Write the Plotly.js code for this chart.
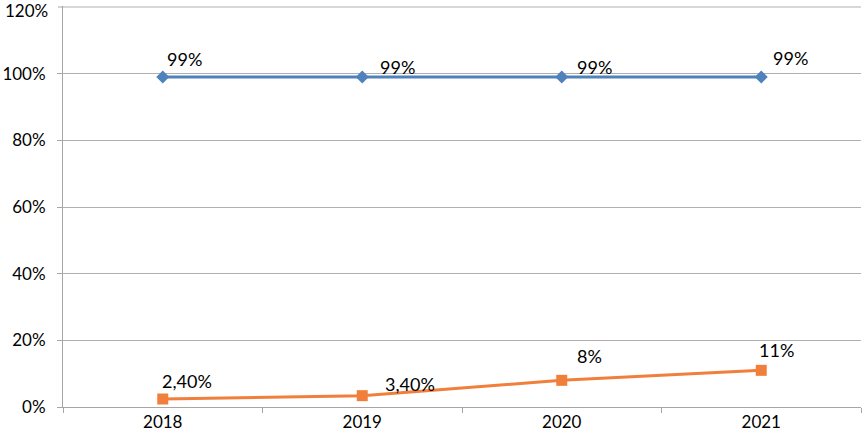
<!DOCTYPE html>
<html>
<head>
<meta charset="utf-8">
<script src="https://cdn.plot.ly/plotly-3.0.1.min.js"></script>
<style>html,body{margin:0;padding:0;background:#fff;}#chart{width:862px;height:441px;}</style>
</head>
<body>
<div id="chart"></div>
<script>
var years = ['2018', '2019', '2020', '2021'];
var seriesA = [99, 99, 99, 99];
var seriesB = [2.4, 3.4, 8, 11];
var labelsA = ['99%', '99%', '99%', '99%'];
var labelsB = ['2,40%', '3,40%', '8%', '11%'];
var yTicks = [0, 20, 40, 60, 80, 100, 120];
var yTickText = ['0%', '20%', '40%', '60%', '80%', '100%', '120%'];
var yMax = 120;

var blue = '#4F81BD';
var orange = '#F07F3C';
var font = 'Lato, "Open Sans", sans-serif';

var shiftA = [[22, 18], [35, 10], [33, 10], [29, 19]];
var shiftB = [[24, 18], [48, 12], [28, 24], [15, 20]];

var annotations = [];
years.forEach(function (y, i) {
  annotations.push({x: i, y: seriesA[i], text: labelsA[i], showarrow: false,
    xshift: shiftA[i][0], yshift: shiftA[i][1], font: {family: font, size: 18, color: '#000'}});
  annotations.push({x: i, y: seriesB[i], text: labelsB[i], showarrow: false,
    xshift: shiftB[i][0], yshift: shiftB[i][1], font: {family: font, size: 18, color: '#000'}});
});
// top tick label (Plotly drops it at the paper edge)
annotations.push({xref: 'paper', x: 0, xanchor: 'right', xshift: -13, yref: 'y', y: yMax,
  yanchor: 'middle', yshift: -3, text: yTickText[yTickText.length - 1], showarrow: false,
  font: {family: font, size: 17, color: '#000'}});

var shapes = [
  {type: 'line', xref: 'paper', x0: 0, x1: 1, yref: 'y', y0: yMax, y1: yMax,
   line: {color: '#b0b0b0', width: 1}, layer: 'below'},
  {type: 'line', xref: 'paper', x0: -0.00625, x1: 0, yref: 'y', y0: yMax, y1: yMax,
   line: {color: '#a6a6a6', width: 1}}
];

var traces = [
  {x: years, y: seriesA, type: 'scatter', mode: 'lines+markers',
   line: {color: blue, width: 3}, marker: {symbol: 'diamond', size: 10, color: blue}},
  {x: years, y: seriesB, type: 'scatter', mode: 'lines+markers',
   line: {color: orange, width: 3}, marker: {symbol: 'square', size: 11, color: orange}}
];

var layout = {
  width: 862, height: 441,
  margin: {l: 63, r: 1, t: 6, b: 34},
  paper_bgcolor: '#fff', plot_bgcolor: '#fff',
  showlegend: false,
  font: {family: font, size: 17, color: '#000'},
  xaxis: {type: 'category', range: [-0.5, 3.5], tickson: 'boundaries', ticks: 'outside', ticklen: 5,
    tickcolor: '#a6a6a6', showgrid: false, showline: true, linecolor: '#a6a6a6', linewidth: 1,
    tickfont: {family: font, size: 17, color: '#000'}, fixedrange: true},
  yaxis: {range: [0, 120.3], tickmode: 'array', tickvals: yTicks.slice(0, -1), ticktext: yTickText.slice(0, -1),
    ticks: 'outside', ticklen: 5,
    tickcolor: '#a6a6a6', showgrid: true, gridcolor: '#b0b0b0', gridwidth: 1,
    showline: true, linecolor: '#a6a6a6', linewidth: 1, zeroline: false,
    ticklabelstandoff: 8,
    tickfont: {family: font, size: 17, color: '#000'}, fixedrange: true},
  annotations: annotations,
  shapes: shapes
};

Plotly.newPlot('chart', traces, layout, {displayModeBar: false, staticPlot: true});
</script>
</body>
</html>
